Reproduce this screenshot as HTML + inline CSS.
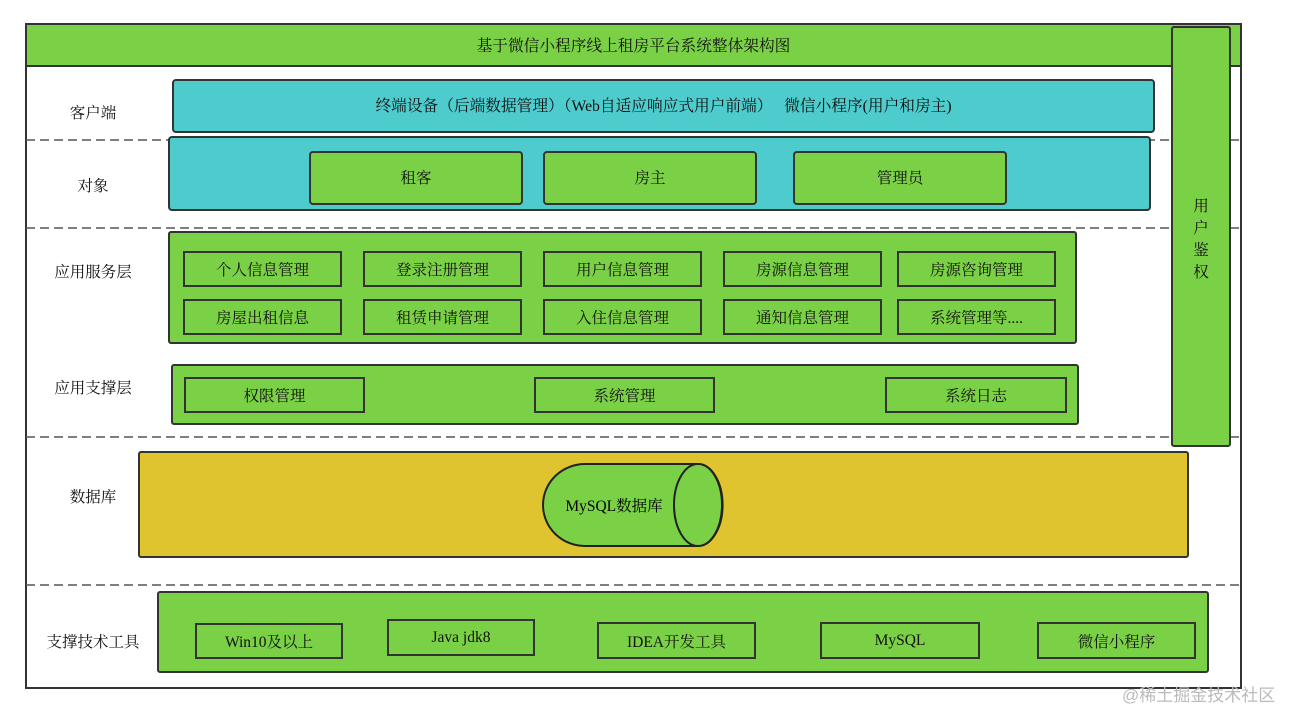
<!DOCTYPE html>
<html><head><meta charset="utf-8"><style>
body{margin:0;width:1289px;height:709px;background:#fff;position:relative;overflow:hidden;font-family:"Liberation Serif","Noto Serif CJK SC","Noto Sans CJK SC",serif;color:#111}
div{position:absolute;box-sizing:border-box}
.g{background:#7ad146;border:2px solid #333;border-radius:3px}
.c{background:#4ecbcc;border:2px solid #333;border-radius:4px}
.b{background:#7ad146;border:2px solid #333;display:flex;align-items:center;justify-content:center;font-size:15.5px}
.r{border-radius:4px}
.l{font-size:15.5px;width:140px;text-align:center;left:23px}
</style></head><body>
<div style="left:25px;top:23px;width:1217px;height:666px;border:2px solid #333"></div>
<div style="left:25px;top:23px;width:1217px;height:44px;background:#7ad146;border:2px solid #333;display:flex;align-items:center;justify-content:center;font-size:15.7px">基于微信小程序线上租房平台系统整体架构图</div>
<svg style="position:absolute;left:0;top:0" width="1289" height="709">
<g stroke="#555" stroke-width="1.5" stroke-dasharray="9,5">
<line x1="26" y1="140" x2="1241" y2="140"/>
<line x1="26" y1="228" x2="1241" y2="228"/>
<line x1="26" y1="437" x2="1241" y2="437"/>
<line x1="26" y1="585" x2="1241" y2="585"/>
</g></svg>
<div class="g" style="left:1171px;top:26px;width:60px;height:421px"></div>
<div style="left:1171px;top:196px;width:60px;font-size:15.5px;text-align:center;line-height:22px">用<br>户<br>鉴<br>权</div>

<div class="l" style="top:101px">客户端</div>
<div class="l" style="top:174px">对象</div>
<div class="l" style="top:260px">应用服务层</div>
<div class="l" style="top:376px">应用支撑层</div>
<div class="l" style="top:485px">数据库</div>
<div class="l" style="top:630px">支撑技术工具</div>

<div class="c" style="left:172px;top:79px;width:983px;height:54px;display:flex;align-items:center;justify-content:center;font-size:15.7px;padding-bottom:3px">终端设备（后端数据管理）（Web自适应响应式用户前端） &nbsp; 微信小程序(用户和房主)</div>
<div class="c" style="left:168px;top:136px;width:983px;height:75px"></div>
<div class="b r" style="left:309px;top:151px;width:214px;height:54px;padding-bottom:3px">租客</div>
<div class="b r" style="left:543px;top:151px;width:214px;height:54px;padding-bottom:3px">房主</div>
<div class="b r" style="left:793px;top:151px;width:214px;height:54px;padding-bottom:3px">管理员</div>

<div class="g" style="left:168px;top:231px;width:909px;height:113px"></div>
<div class="b" style="left:183px;top:251px;width:159px;height:36px">个人信息管理</div>
<div class="b" style="left:363px;top:251px;width:159px;height:36px">登录注册管理</div>
<div class="b" style="left:543px;top:251px;width:159px;height:36px">用户信息管理</div>
<div class="b" style="left:723px;top:251px;width:159px;height:36px">房源信息管理</div>
<div class="b" style="left:897px;top:251px;width:159px;height:36px">房源咨询管理</div>
<div class="b" style="left:183px;top:299px;width:159px;height:36px">房屋出租信息</div>
<div class="b" style="left:363px;top:299px;width:159px;height:36px">租赁申请管理</div>
<div class="b" style="left:543px;top:299px;width:159px;height:36px">入住信息管理</div>
<div class="b" style="left:723px;top:299px;width:159px;height:36px">通知信息管理</div>
<div class="b" style="left:897px;top:299px;width:159px;height:36px">系统管理等....</div>

<div class="g" style="left:171px;top:364px;width:908px;height:61px"></div>
<div class="b" style="left:184px;top:377px;width:181px;height:36px">权限管理</div>
<div class="b" style="left:534px;top:377px;width:181px;height:36px">系统管理</div>
<div class="b" style="left:885px;top:377px;width:182px;height:36px">系统日志</div>

<div style="left:138px;top:451px;width:1051px;height:107px;background:#dfc430;border:2px solid #333;border-radius:3px"></div>
<svg style="position:absolute;left:540px;top:461px" width="186" height="90">
<path d="M45 3 H158 A24 40 0 0 1 158 85 H45 A42 41 0 0 1 45 3 Z" fill="#7ad146" stroke="#222" stroke-width="2"/>
<ellipse cx="158" cy="44" rx="24" ry="41" fill="#7ad146" stroke="#222" stroke-width="2"/>
<text x="74" y="50" font-size="15.5" text-anchor="middle" font-family="Liberation Serif,Noto Serif CJK SC,serif">MySQL数据库</text>
</svg>

<div class="g" style="left:157px;top:591px;width:1052px;height:82px"></div>
<div class="b" style="left:195px;top:623px;width:148px;height:36px">Win10及以上</div>
<div class="b" style="left:387px;top:619px;width:148px;height:37px">Java jdk8</div>
<div class="b" style="left:597px;top:622px;width:159px;height:37px">IDEA开发工具</div>
<div class="b" style="left:820px;top:622px;width:160px;height:37px">MySQL</div>
<div class="b" style="left:1037px;top:622px;width:159px;height:37px">微信小程序</div>

<div style="left:1122px;top:681px;font-size:17px;color:#bbb;font-family:'Liberation Sans','Noto Sans CJK SC',sans-serif">@稀土掘金技术社区</div>
</body></html>
